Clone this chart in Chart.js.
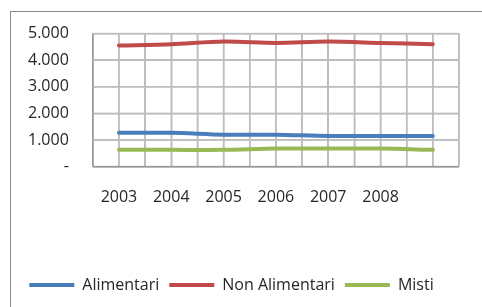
<!DOCTYPE html>
<html lang="it">
<head>
  <meta charset="UTF-8" />
  <title>Alimentari / Non Alimentari / Misti</title>
  <script src="https://cdn.jsdelivr.net/npm/chart.js"></script>
  <style>
    html, body {
      margin: 0;
      padding: 0;
      background: #fff;
      overflow: hidden;
    }
    .wrap {
      position: absolute;
      left: 0;
      top: 0;
      width: 482px;
      height: 318px;
    }
    .frame {
      position: absolute;
      left: 10px;
      top: 11px;
      width: 480px;
      height: 300px;
      border-left: 1px solid #8a8a8a;
      border-top: 1px solid #8a8a8a;
      pointer-events: none;
    }
  </style>
</head>
<body>
  <div class="wrap"><canvas id="chart"></canvas></div>
  <div class="frame"></div>

  <script>
    const years = ["2003", "2004", "2005", "2006", "2007", "2008", ""];
    const alimentari = [1270, 1270, 1200, 1200, 1150, 1150, 1150];
    const nonAlimentari = [4550, 4600, 4700, 4650, 4700, 4650, 4600];
    const misti = [630, 630, 630, 680, 680, 680, 630];

    const toPoints = arr => arr.map((v, i) => ({ x: i, y: v }));

    function fmt(v) {
      if (v === 0) return "-";
      return v.toLocaleString("it-IT");
    }

    const series = [
      { label: "Alimentari", data: alimentari, color: "rgb(74,126,187)" },
      { label: "Non Alimentari", data: nonAlimentari, color: "rgb(190,75,72)" },
      { label: "Misti", data: misti, color: "rgb(152,185,84)" }
    ];

    const font = { family: "Open Sans", size: 16 };
    const textColor = "rgb(38,38,38)";
    const gridColor = "rgb(189,189,189)";
    const axisColor = "rgb(154,154,154)";

    // same grid again with filled rects, from the scales' tick positions
    const gridPlugin = {
      id: "excelGrid",
      beforeDatasetsDraw(chart) {
        const { ctx, scales } = chart;
        const x = scales.x, y = scales.y;
        ctx.save();
        ctx.globalAlpha = 1;
        ctx.globalCompositeOperation = "source-over";
        x.ticks.forEach(t => {
          const px = x.getPixelForValue(t.value);
          ctx.fillStyle = t.value === x.min ? axisColor : gridColor;
          ctx.fillRect(px - 0.75, y.top, 1.5, y.bottom - y.top);
        });
        y.ticks.forEach(t => {
          const py = y.getPixelForValue(t.value);
          ctx.fillStyle = t.value === y.min ? axisColor : gridColor;
          ctx.fillRect(x.left, py - 0.75, x.right - x.left, 1.5);
        });
        ctx.restore();
      }
    };

    new Chart(document.getElementById("chart"), {
      type: "line",
      data: {
        datasets: series.map(s => ({
          label: s.label,
          data: toPoints(s.data),
          borderColor: s.color,
          backgroundColor: s.color,
          borderWidth: 4,
          borderCapStyle: "round",
          pointRadius: 0,
          pointStyle: "line",
          tension: 0.3
        }))
      },
      plugins: [gridPlugin],
      options: {
        responsive: true,
        maintainAspectRatio: false,
        animation: false,
        layout: { padding: { left: 4, right: 23, top: 20, bottom: 15 } },
        plugins: {
          tooltip: { enabled: false },
          legend: {
            position: "bottom",
            labels: {
              usePointStyle: true,
              pointStyleWidth: 45,
              padding: 10,
              color: textColor,
              font: font
            }
          }
        },
        scales: {
          x: {
            type: "linear",
            min: -0.5,
            max: 6.5,
            grid: {
              color: c => c.tick && c.tick.value === -0.5 ? axisColor : gridColor,
              lineWidth: 1.5,
              drawTicks: false
            },
            title: {
              display: true,
              text: " ",
              color: "rgba(0,0,0,0)",
              font: font,
              padding: { top: 20, bottom: 0 }
            },
            ticks: {
              stepSize: 0.5,
              autoSkip: false,
              maxRotation: 0,
              minRotation: 0,
              padding: 21,
              color: textColor,
              font: font,
              callback: v => Number.isInteger(v) ? years[v] : ""
            }
          },
          y: {
            min: 0,
            max: 5000,
            grid: {
              color: c => c.tick && c.tick.value === 0 ? axisColor : gridColor,
              lineWidth: 1.5,
              drawTicks: false
            },
            ticks: {
              stepSize: 1000,
              padding: 24,
              color: textColor,
              font: font,
              callback: v => fmt(v)
            }
          }
        }
      }
    });
  </script>
</body>
</html>
